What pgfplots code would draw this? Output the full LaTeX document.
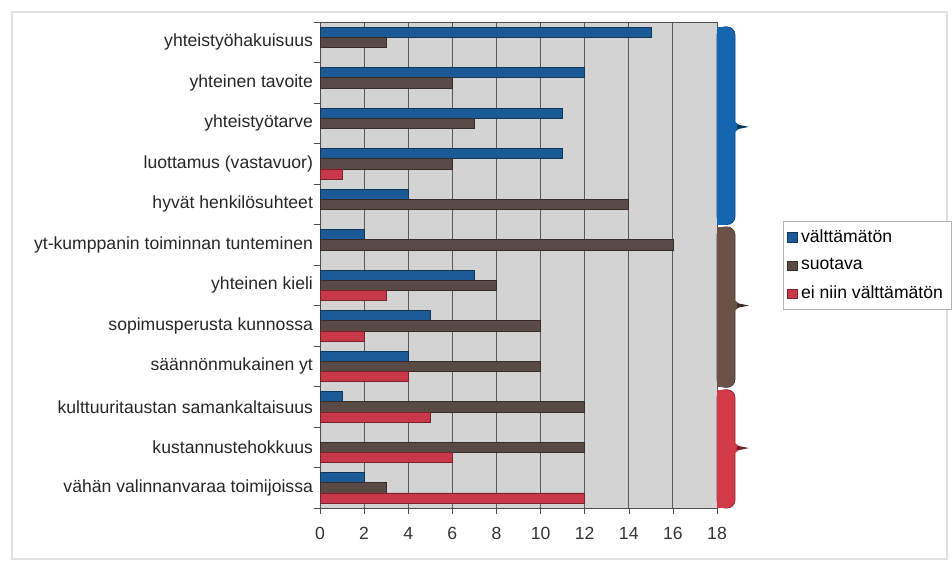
\documentclass[border=0pt]{standalone}
\usepackage{fontspec}
\setmainfont{Liberation Sans}
\usepackage{pgfplots}
\pgfplotsset{compat=1.18}
\definecolor{cblue}{HTML}{1B5A96}
\definecolor{cbrown}{HTML}{5A4A46}
\definecolor{cred}{HTML}{C8384A}
\definecolor{bblue}{HTML}{1565B0}
\definecolor{bbrown}{HTML}{6A5249}
\definecolor{bred}{HTML}{D23A4A}
\definecolor{plotbg}{HTML}{D3D3D3}
\newcommand{\bracefill}[4]{%
  \fill[#1, draw=#1!70!black, line width=0.4pt, rounded corners=4pt]
    (axis cs:18,#2) rectangle ([xshift=9pt]axis cs:18,#4);
  \fill[#1] (axis cs:18,#2) rectangle ([xshift=5pt]axis cs:18,#4);
  \fill[#1] ([xshift=8.5pt,yshift=3pt]axis cs:18,#3) -- ([xshift=12pt]axis cs:18,#3)
    -- ([xshift=8.5pt,yshift=-3pt]axis cs:18,#3) -- cycle;
  \fill[#1!55!black] ([xshift=10pt,yshift=1.2pt]axis cs:18,#3) -- ([xshift=16pt]axis cs:18,#3)
    -- ([xshift=10pt,yshift=-1.2pt]axis cs:18,#3) -- cycle;
}
\begin{document}
\begin{tikzpicture}[x=1pt,y=1pt]
\useasboundingbox (0,0) rectangle (476,281);
\draw[black!12, line width=0.6pt] (6,1.5) rectangle (473.5,275);
\begin{axis}[
  at={(160pt,27pt)}, anchor=south west,
  width=198.5pt, height=243pt, scale only axis,
  xbar, bar width=0.25,
  xmin=0, xmax=18, ymin=-0.5, ymax=11.5, y dir=reverse,
  axis background/.style={fill=plotbg},
  axis line style={black!70},
  xtick={0,2,...,18}, xtick pos=left, ytick pos=left,
  tick align=outside, major tick length=3pt,
  tick style={black!70},
  xmajorgrids, major grid style={black!65, line width=0.5pt},
  ytick={-0.5,0.5,1.5,2.5,3.5,4.5,5.5,6.5,7.5,8.5,9.5,10.5,11.5},
  yticklabels={},
  extra y ticks={0,1,2,3,4,5,6,7,8,9,10,11},
  extra y tick labels={yhteistyöhakuisuus,yhteinen tavoite,yhteistyötarve,luottamus (vastavuor),hyvät henkilösuhteet,yt-kumppanin toiminnan tunteminen,yhteinen kieli,sopimusperusta kunnossa,säännönmukainen yt,kulttuuritaustan samankaltaisuus,kustannustehokkuus,vähän valinnanvaraa toimijoissa},
  extra y tick style={major tick length=0pt, grid=none},
  yticklabel style={font=\fontsize{8.8}{10}\selectfont, text=black!85},
  xticklabel style={font=\fontsize{8.8}{10}\selectfont, text=black!80, yshift=-3pt},
  /pgf/number format/assume math mode=true,
  clip=false,
  legend image code/.code={\fill[#1] (0pt,-2.3pt) rectangle (4.6pt,2.3pt);},
  legend style={at={(rel axis cs:1.166,0.5905)}, anchor=north west,
    draw=black!30, font=\fontsize{8.8}{10}\selectfont, row sep=2.6pt,
    inner sep=2pt, cells={anchor=west}},
]
\addplot[fill=cblue, draw=cblue!60!black, line width=0.3pt, bar shift=-0.25]
  coordinates {(15,0) (12,1) (11,2) (11,3) (4,4) (2,5) (7,6) (5,7) (4,8) (1,9) (2,11)};
\addlegendentry{välttämätön}
\addplot[fill=cbrown, draw=cbrown!60!black, line width=0.3pt, bar shift=0]
  coordinates {(3,0) (6,1) (7,2) (6,3) (14,4) (16,5) (8,6) (10,7) (10,8) (12,9) (12,10) (3,11)};
\addlegendentry{suotava}
\addplot[fill=cred, draw=cred!60!black, line width=0.3pt, bar shift=0.25]
  coordinates {(1,3) (3,6) (2,7) (4,8) (5,9) (6,10) (12,11)};
\addlegendentry{ei niin välttämätön}
\bracefill{bblue}{-0.38}{2.09}{4.5}
\bracefill{bbrown}{4.56}{6.5}{8.52}
\bracefill{bred}{8.58}{10.02}{11.5}
\end{axis}
\end{tikzpicture}
\end{document}
